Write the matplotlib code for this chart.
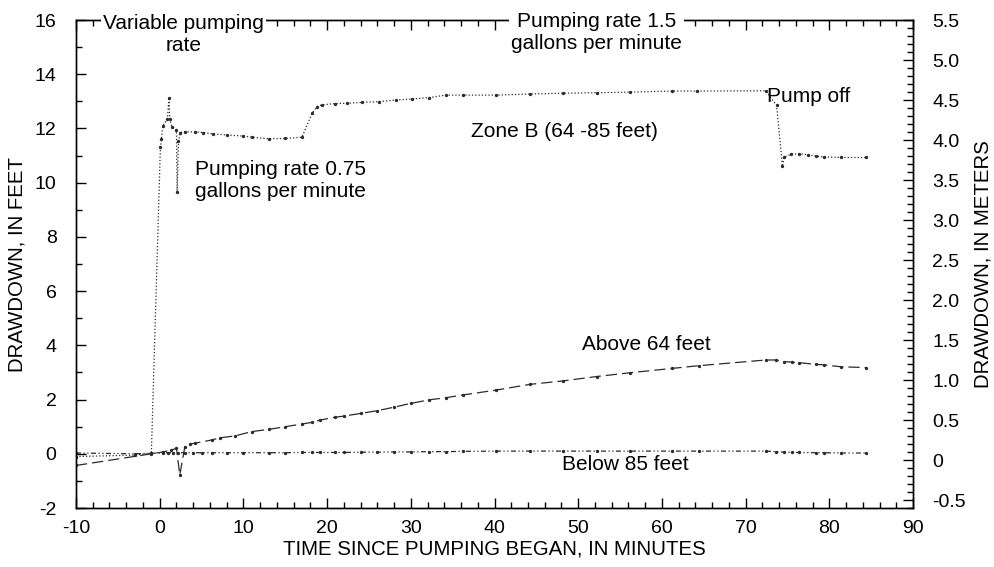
"""
Drawdown during the pumping test: Zone B and the zones above and below it.
"""
import numpy as np
import matplotlib
matplotlib.use('Agg')
import matplotlib.pyplot as plt
from matplotlib.ticker import MultipleLocator

# time since pumping began (minutes) and drawdown (feet)
ZB_T = [-10, -3, -1, 0.08, 0.2, 0.36, 0.92, 1.1, 1.2, 1.44, 2.0, 2.08, 2.24, 2.48,
        3.0, 4.2, 5.2, 6.4, 8.0, 10.0, 11.0, 13.0, 15.0, 17.0,
        18.2, 18.8, 19.4, 21.0, 22.4, 24.2, 26.2, 28.2, 30.2, 32.2, 34.2, 36.2, 40.2, 44.2,
        48.2, 52.2, 56.2, 61.2, 64.2,
        72.4, 73.7, 74.4, 74.6, 75.4, 76.4, 77.4, 78.4, 79.4, 81.4, 84.4]
ZB_DD = [-0.1, -0.05, 0.02, 11.3, 11.6, 12.1, 12.34, 13.14, 12.34, 12.07, 11.95, 9.67, 11.54, 11.85,
         11.88, 11.87, 11.85, 11.8, 11.76, 11.72, 11.68, 11.62, 11.63, 11.68,
         12.56, 12.81, 12.87, 12.92, 12.93, 12.96, 12.99, 13.05, 13.09, 13.14, 13.23, 13.23, 13.23, 13.27,
         13.3, 13.32, 13.34, 13.38, 13.38,
         13.39, 12.85, 10.6, 10.94, 11.05, 11.07, 11.03, 10.98, 10.95, 10.93, 10.93]

AB_T = [-10, -1, 0.4, 1.4, 2.0, 2.4, 3.0, 3.6, 4.2,
        6.2, 7.2, 9.0, 11.0, 13.0, 15.0, 17.0,
        18.2, 19.2, 21.0, 22.0, 24.0, 26.0, 28.0, 30.0,
        32.2, 34.2, 36.2, 40.2, 44.2, 48.2, 52.2, 56.2, 61.2, 64.4,
        72.4, 73.6, 74.6, 75.6, 76.4, 78.4, 79.4, 81.4, 84.4]
AB_DD = [-0.43, 0.0, 0.07, 0.14, 0.2, -0.78, 0.26, 0.36, 0.39,
         0.51, 0.59, 0.66, 0.82, 0.9, 1.0, 1.1,
         1.16, 1.25, 1.35, 1.39, 1.49, 1.59, 1.72, 1.86,
         1.99, 2.07, 2.17, 2.35, 2.56, 2.69, 2.85, 2.99, 3.15, 3.25,
         3.46, 3.46, 3.4, 3.38, 3.36, 3.3, 3.28, 3.21, 3.18]

BE_T = [-10, -3, -1, 0.4, 1.0, 1.6, 2.2, 3.0, 4.0, 5.0,
        6.2, 8.0, 10.0, 13.0, 15.0, 17.0, 18.2, 19.2, 21.0, 22.0,
        24.0, 26.0, 28.0, 30.0, 32.2, 34.2, 36.2, 40.2, 44.2, 48.2,
        52.2, 56.2, 61.2, 64.4, 72.4, 73.6, 74.6, 75.6, 76.4, 78.4,
        79.4, 81.4, 84.4]
BE_DD = [0.03, 0.0, 0.02, 0.03, 0.04, 0.04, 0.04, 0.04, 0.04, 0.04,
         0.04, 0.04, 0.04, 0.04, 0.04, 0.05, 0.05, 0.05, 0.05, 0.05,
         0.06, 0.06, 0.07, 0.07, 0.08, 0.08, 0.09, 0.1, 0.1, 0.1,
         0.1, 0.1, 0.1, 0.1, 0.1, 0.08, 0.06, 0.05, 0.05, 0.04,
         0.04, 0.03, 0.03]

FS_TXT, FS_TICK, FS_LAB = 15, 14, 14.7
plt.rcParams.update({'font.family': ['Liberation Sans', 'DejaVu Sans'], 'font.size': FS_TXT,
                     'xtick.direction': 'in', 'ytick.direction': 'in',
                     'axes.linewidth': 1.0, 'axes.unicode_minus': False})

fig = plt.figure(figsize=(9.95, 5.67), dpi=100)
ax = fig.add_axes([0.0764, 0.104, 0.8412, 0.8607])
LC = '#2b2b2b'
ax.plot(ZB_T, ZB_DD, ls=':', color=LC, lw=0.9, marker='o', ms=1.4)
ax.plot(AB_T, AB_DD, ls=(0, (9, 4)), color=LC, lw=0.9, marker='o', ms=1.4)
ax.plot(BE_T, BE_DD, ls=(0, (4, 2, 1, 2, 1, 2)), color=LC, lw=0.9, marker='o', ms=1.4)

ax.set_xlim(-10, 90); ax.set_ylim(-2, 16)
ax.xaxis.set_major_locator(MultipleLocator(10)); ax.xaxis.set_minor_locator(MultipleLocator(2))
ax.yaxis.set_major_locator(MultipleLocator(2)); ax.yaxis.set_minor_locator(MultipleLocator(1))
ax.tick_params(which='major', length=7, width=1, top=True, labelsize=FS_TICK)
ax.tick_params(which='minor', length=4, width=1, top=True)
ax.tick_params(axis='y', pad=14)
ax.tick_params(axis='x', pad=8.5)
ax.set_xlabel('TIME SINCE PUMPING BEGAN, IN MINUTES', fontsize=FS_LAB, labelpad=2)
ax.set_ylabel('DRAWDOWN, IN FEET', fontsize=FS_LAB, labelpad=6)

ax2 = ax.twinx()
ax2.set_ylim(-0.6, 5.5)
ax2.yaxis.set_minor_locator(MultipleLocator(0.1))
ax2.set_yticks(np.arange(-0.5, 5.51, 0.5))
ax2.set_yticklabels(['-0.5', '0', '0.5', '1.0', '1.5', '2.0', '2.5', '3.0', '3.5', '4.0', '4.5', '5.0', '5.5'])
ax2.tick_params(which='major', length=7, width=1, labelsize=FS_TICK, pad=14)
ax2.tick_params(which='minor', length=4, width=1)
ax2.set_ylabel('DRAWDOWN, IN METERS', fontsize=FS_LAB, labelpad=5)

# annotations go on the twin (drawn last) in feet coordinates; the two at
# the top knock out the frame line behind them
knock = dict(boxstyle='square,pad=0.1', fc='white', ec='none')
ft = ax.transData


def note(x, y, s, **kw):
    ax2.text(x, y, s, transform=ft, va='center', fontsize=FS_TXT, linespacing=1.2, **kw)


note(2.8, 15.45, 'Variable pumping\nrate', ha='center', bbox=knock, zorder=5)
note(52.2, 15.55, 'Pumping rate 1.5\ngallons per minute', ha='center', bbox=knock, zorder=5)
note(77.5, 13.17, 'Pump off', ha='center')
note(48.4, 11.9, 'Zone B (64 -85 feet)', ha='center')
note(4.2, 10.07, 'Pumping rate 0.75\ngallons per minute', ha='left')
note(58.2, 4.05, 'Above 64 feet', ha='center')
note(55.6, -0.41, 'Below 85 feet', ha='center')

fig.savefig('out.png', dpi=100)
